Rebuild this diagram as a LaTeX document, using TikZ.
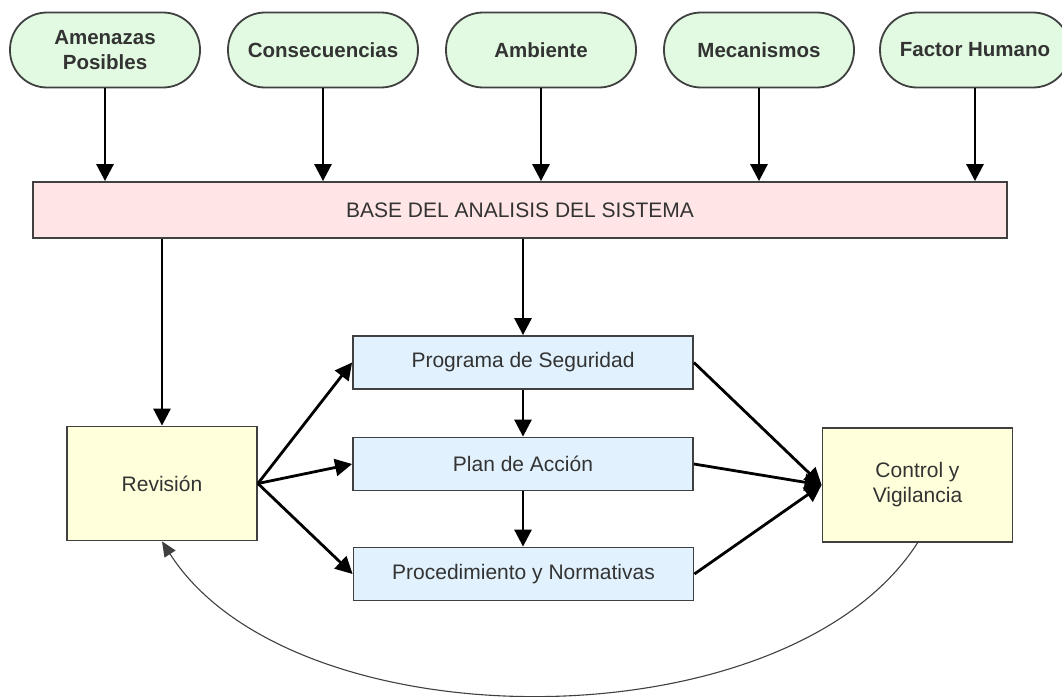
\documentclass[tikz,border=0pt]{standalone}
\usepackage{fontspec}
\setmainfont{Liberation Sans}
\usetikzlibrary{arrows.meta}

\definecolor{pillfill}{HTML}{E1FAE1}
\definecolor{basefill}{HTML}{FFE5E5}
\definecolor{stepfill}{HTML}{E1F2FE}
\definecolor{sidefill}{HTML}{FFFFDC}
\definecolor{edge}{HTML}{404040}
\definecolor{ink}{HTML}{333333}

\tikzset{
  pill/.style={draw=edge, line width=1.8pt, fill=pillfill, rounded corners=37pt,
    minimum width=190pt, minimum height=75pt, inner sep=0pt, align=center,
    text=ink, font=\fontsize{20.5}{25}\selectfont\bfseries},
  basebox/.style={draw=edge, line width=1.8pt, fill=basefill,
    minimum width=974pt, minimum height=56pt, inner sep=0pt,
    text=ink, font=\fontsize{21}{25}\selectfont},
  stepbox/.style={draw=edge, line width=1.8pt, fill=stepfill,
    minimum width=340pt, minimum height=53pt, inner sep=0pt,
    text=ink, font=\fontsize{21}{25}\selectfont},
  sidebox/.style={draw=edge, line width=1.8pt, fill=sidefill,
    minimum width=190pt, minimum height=114pt, inner sep=0pt, align=center,
    text=ink, font=\fontsize{21}{25}\selectfont},
  arr/.style={draw=black, line width=2.8pt,
    -{Triangle[length=17pt,width=17pt]}},
  loop/.style={draw=edge, line width=1.1pt,
    -{Triangle[length=15pt,width=13pt]}},
}

\begin{document}
\begin{tikzpicture}[x=1pt,y=-1pt]
\useasboundingbox (0,0) rectangle (1062,696);
\fill[white] (0,0) rectangle (1062,696);
\clip (0,0) rectangle (1062,696);

% inputs along the top
\node[pill] (amen) at (105,50)  {Amenazas\\Posibles};
\node[pill] (cons) at (323,50)  {Consecuencias};
\node[pill] (amb)  at (541,50)  {Ambiente};
\node[pill] (mec)  at (759,50)  {Mecanismos};
\node[pill] (fac)  at (975,50)  {Factor Humano};

% analysis base
\node[basebox] (base) at (520,210) {BASE DEL ANALISIS DEL SISTEMA};

% central steps
\node[stepbox] (prog) at (523,362.5) {Programa de Seguridad};
\node[stepbox] (plan) at (523,464)   {Plan de Acción};
\node[stepbox] (proc) at (523.5,574) {Procedimiento y Normativas};

% side boxes
\node[sidebox] (rev)  at (162,483.5) {Revisión};
\node[sidebox] (ctl)  at (917.5,485) {Control y\\Vigilancia};

% inputs into the base
\foreach \n in {amen,cons,amb,mec,fac}
  \draw[arr] (\n.south) -- (\n.south |- base.north);

% base to review and to the programme
\draw[arr] (base.south -| rev.north) -- (rev.north);
\draw[arr] (base.south -| prog.north) -- (prog.north);

% chain of steps
\draw[arr] (prog.south) -- (prog.south |- plan.north);
\draw[arr] (plan.south) -- (plan.south |- proc.north);

% review fans out to the steps
\draw[arr] (rev.east) -- (prog.west);
\draw[arr] (rev.east) -- (plan.west);
\draw[arr] (rev.east) -- (proc.west);

% steps converge on control
\draw[arr] (prog.east) -- (ctl.west);
\draw[arr] (plan.east) -- (ctl.west);
\draw[arr] (proc.east) -- (ctl.west);

% feedback loop from control back to review
\draw[loop] (ctl.south) .. controls (787,746) and (293,746) .. (rev.south);
\end{tikzpicture}
\end{document}
